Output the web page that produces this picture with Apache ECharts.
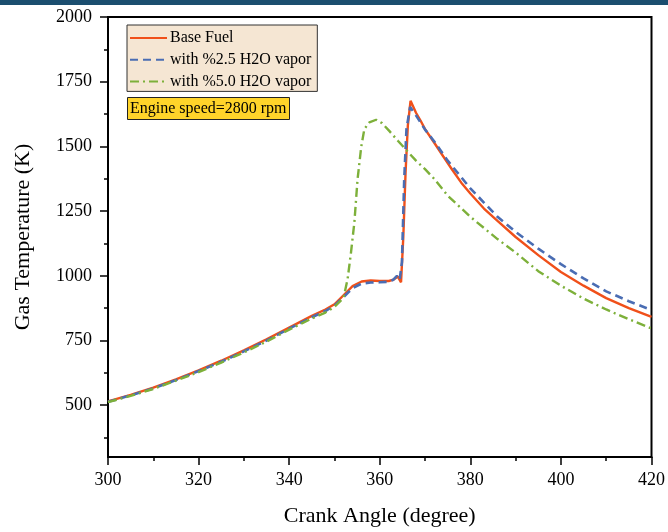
<!DOCTYPE html>
<html>
<head>
<meta charset="utf-8">
<script src="https://cdn.jsdelivr.net/npm/echarts@6/dist/echarts.min.js"></script>
<style>html,body{margin:0;padding:0;background:#fff}#c{width:668px;height:532px}</style>
</head>
<body>
<div id="c"></div>
<script>
const seriesNames = ['Base Fuel', 'with %2.5 H2O vapor', 'with %5.0 H2O vapor'];

const baseAngle = [300,305,310,315,320,325,330,335,340,345,348,350,352,354,356,358,360,362,363,364,364.7,365.2,365.7,366.2,366.8,368,369,370,372,374,376,378,380,383,386,390,395,400,405,410,415,420];
const baseTemp  = [515,540,568,600,635,672,712,755,800,845,870,890,925,960,978,982,980,980,985,997,975,1150,1400,1580,1676,1630,1600,1567,1515,1462,1410,1360,1318,1260,1212,1150,1080,1015,962,914,875,841];

const h25Angle = [300,305,310,315,320,325,330,335,340,345,348,350,352,354,356,358,360,362,363,363.8,364.4,364.9,365.4,365.9,366.7,368,370,372,375,380,386,390,395,400,405,410,415,420];
const h25Temp  = [513,538,565,597,632,668,708,750,796,840,864,885,918,952,970,974,975,977,985,1000,985,1053,1373,1567,1652,1620,1565,1520,1445,1338,1228,1170,1105,1045,990,940,902,868];

const h50Angle = [300,305,310,315,320,325,330,335,340,345,348,350,352,352.9,353.65,354.4,355.1,355.9,356.6,357.7,359.2,360.5,362.1,364,366,368,370,372,375,380,386,390,395,400,405,410,415,420];
const h50Temp  = [512,536,563,595,628,665,704,746,792,835,858,880,915,987,1090,1207,1373,1497,1567,1593,1603,1590,1560,1522,1483,1445,1412,1375,1310,1228,1142,1090,1018,962,912,870,832,797];

const yMajorTicks = [500,750,1000,1250,1500,1750,2000];
const yMinorTicks = [375,625,875,1125,1375,1625,1875];
const annotation = 'Engine speed=2800 rpm';

const pairs = (a, b) => a.map((x, i) => [x, b[i]]);
const FONT = '"Liberation Serif", "Times New Roman", serif';

const chart = echarts.init(document.getElementById('c'), null, {renderer: 'canvas'});
chart.setOption({
  animation: false,
  backgroundColor: '#ffffff',
  graphic: [{
    type: 'rect', left: 0, top: 0, z: 100,
    shape: {width: 668, height: 5},
    style: {fill: '#1b4e6f'}
  }],
  title: {
    text: annotation,
    left: 127, top: 97,
    padding: [3, 3, 3, 3],
    backgroundColor: '#FFD42A',
    borderColor: '#222',
    borderWidth: 1,
    textStyle: {fontFamily: FONT, fontSize: 16, fontWeight: 'normal', color: '#000', lineHeight: 17}
  },
  legend: {
    left: 127, top: 25,
    orient: 'vertical',
    itemWidth: 37, itemHeight: 14, itemGap: 3.7,
    padding: [4, 6, 1, 2],
    backgroundColor: '#F5E6D3',
    borderColor: '#333',
    borderWidth: 1,
    borderRadius: 0,
    itemStyle: {opacity: 0},
    textStyle: {fontFamily: FONT, fontSize: 16, color: '#000', lineHeight: 18, padding: [0,0,0,-2]},
    data: seriesNames
  },
  grid: {left: 108, right: 15, top: 17, bottom: 74, show: true, borderColor: '#000', borderWidth: 2, backgroundColor: 'transparent'},
  xAxis: {
    type: 'value', min: 300, max: 420, interval: 20,
    name: 'Crank Angle (degree)', nameLocation: 'middle', nameGap: 48,
    nameTextStyle: {fontFamily: FONT, fontSize: 22, color: '#000'},
    axisLine: {show: true, lineStyle: {color: '#000', width: 2}},
    axisTick: {show: true, length: 8, lineStyle: {color: '#000', width: 1.5}},
    minorTick: {show: true, splitNumber: 2, length: 4, lineStyle: {color: '#000', width: 1.5}},
    axisLabel: {fontFamily: FONT, fontSize: 18, color: '#000', margin: 14},
    splitLine: {show: false}
  },
  yAxis: [{
    type: 'value', min: 300, max: 2000,
    name: 'Gas Temperature (K)', nameLocation: 'middle', nameGap: 74, nameRotate: 90,
    nameTextStyle: {fontFamily: FONT, fontSize: 22, color: '#000'},
    axisLine: {show: true, lineStyle: {color: '#000', width: 2}},
    axisTick: {show: true, length: 8, customValues: yMajorTicks, lineStyle: {color: '#000', width: 1.5}},
    axisLabel: {fontFamily: FONT, fontSize: 18, color: '#000', margin: 16, customValues: yMajorTicks, formatter: v => String(v)},
    splitLine: {show: false}
  }, {
    type: 'value', min: 300, max: 2000, position: 'left',
    axisLine: {show: false},
    axisTick: {show: true, length: 4, customValues: yMinorTicks, lineStyle: {color: '#000', width: 1.5}},
    axisLabel: {show: false},
    splitLine: {show: false}
  }],
  series: [{
    name: seriesNames[0], type: 'line', symbol: 'none', smooth: false,
    yAxisIndex: 0,
    lineStyle: {color: '#F0501A', width: 2.4},
    itemStyle: {color: '#F0501A'},
    data: pairs(baseAngle, baseTemp)
  }, {
    name: seriesNames[1], type: 'line', symbol: 'none',
    yAxisIndex: 0,
    lineStyle: {color: '#4A6DB3', width: 2.6, type: [8, 5]},
    itemStyle: {color: '#4A6DB3'},
    data: pairs(h25Angle, h25Temp)
  }, {
    name: seriesNames[2], type: 'line', symbol: 'none',
    yAxisIndex: 0,
    lineStyle: {color: '#7DB03A', width: 2.4, type: [9, 4, 2, 4]},
    itemStyle: {color: '#7DB03A'},
    data: pairs(h50Angle, h50Temp)
  }]
});
</script>
</body>
</html>
